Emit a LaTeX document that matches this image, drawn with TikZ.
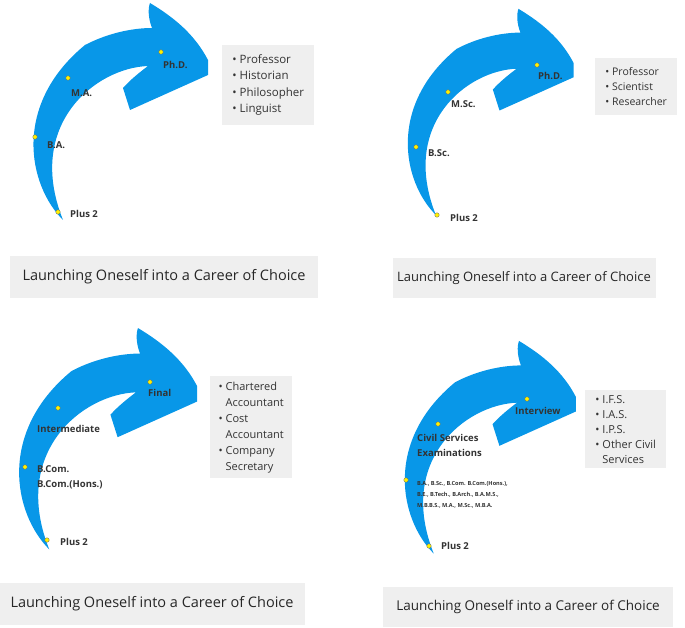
\documentclass[tikz,border=0pt]{standalone}
\usepackage{fontspec}
\setmainfont{Open Sans}
\usepackage{tikz}
\usetikzlibrary{positioning}

\definecolor{arrowblue}{HTML}{0897E8}
\definecolor{boxgray}{HTML}{EFEFEF}
\definecolor{txt}{HTML}{333333}

\newcommand{\careerarrow}[2]{%
  \fill[arrowblue,shift={#1},scale=#2] (63,220) .. controls (28,185) and (12,105) .. (85,45)
    .. controls (110,32) and (135,28) .. (152,28) .. controls (148,18) and (148,8) .. (150,3)
    .. controls (175,18) and (195,35) .. (208,60) -- (208,75)
    -- (130,110) -- (123,88) .. controls (130,80) and (140,72) .. (148,66)
    .. controls (95,68) and (25,125) .. (63,220) -- cycle;}

\begin{document}
\begin{tikzpicture}[x=1pt,y=-1pt,
    stage/.style={font=\bfseries\fontsize{9.5}{11}\selectfont,text=txt,align=left,inner sep=0pt},
    dot/.style={circle,fill=yellow,draw=black!60,line width=0.3pt,inner sep=0pt,minimum size=4.5pt},
    listbox/.style={fill=boxgray,text=txt,font=\fontsize{11.5}{16.5}\selectfont,align=left,anchor=north west,inner sep=3pt},
    titlebox/.style={fill=boxgray,text=black!85,font=\fontsize{14.5}{16}\selectfont,minimum height=42pt}]
\useasboundingbox (0,0) rectangle (685,628);

% top left
\careerarrow{(0,0)}{1}
\node[dot] (p1) at (58,212) {};
\node[dot] (b1) at (35,137) {};
\node[dot] (m1) at (68,78) {};
\node[dot] (d1) at (161,52) {};
\node[stage,anchor=west] at (70,214) {Plus 2};
\node[stage,anchor=west] at (47,145) {B.A.};
\node[stage,anchor=west] at (71,93) {M.A.};
\node[stage,anchor=west] at (163,65) {Ph.D.};
\node[listbox,minimum width=92pt,minimum height=80pt] (j1) at (222,45)
  {\textbullet\ Professor\\ \textbullet\ Historian\\ \textbullet\ Philosopher\\ \textbullet\ Linguist};
\node[titlebox,minimum width=308pt] (t1) at (164,277) {Launching Oneself into a Career of Choice};

% top right
\careerarrow{(376,6)}{0.95}
\node[dot] (p2) at (437,215) {};
\node[dot] (b2) at (416,147) {};
\node[dot] (m2) at (448,92) {};
\node[dot] (d2) at (537,65) {};
\node[stage,anchor=west] at (450,218) {Plus 2};
\node[stage,anchor=west] at (428,153) {B.Sc.};
\node[stage,anchor=west] at (451,104) {M.Sc.};
\node[stage,anchor=west] at (538,76) {Ph.D.};
\node[listbox,minimum width=82pt,minimum height=57pt,font=\fontsize{10.5}{15}\selectfont] (j2) at (595,58)
  {\textbullet\ Professor\\ \textbullet\ Scientist\\ \textbullet\ Researcher};
\node[titlebox,minimum width=263pt,minimum height=40pt,font=\fontsize{13}{15}\selectfont] (t2) at (524,278) {Launching Oneself into a Career of Choice};

% bottom left
\careerarrow{(-15,325)}{1.02}
\node[dot] (p3) at (47,540) {};
\node[dot] (c3) at (25,467) {};
\node[dot] (i3) at (58,408) {};
\node[dot] (f3) at (150,382) {};
\node[stage,anchor=west] at (60,542) {Plus 2};
\node[stage,anchor=north west,font=\bfseries\fontsize{9.5}{15}\selectfont] at (37,465) {B.Com.\\B.Com.(Hons.)};
\node[stage,anchor=west] at (37,429) {Intermediate};
\node[stage,anchor=west] at (148,393) {Final};
\node[listbox,minimum width=82pt,minimum height=102pt,font=\fontsize{11}{16}\selectfont] (j3) at (210,376)
  {\textbullet\ Chartered\\ \phantom{\textbullet}\ Accountant\\ \textbullet\ Cost\\ \phantom{\textbullet}\ Accountant\\ \textbullet\ Company\\ \phantom{\textbullet}\ Secretary};
\node[titlebox,minimum width=305pt] (t3) at (152,604) {Launching Oneself into a Career of Choice};

% bottom right
\careerarrow{(372,338)}{0.98}
\node[dot] (p4) at (429,546) {};
\node[dot] (g4) at (406,480) {};
\node[dot] (c4) at (438,424) {};
\node[dot] (v4) at (527,399) {};
\node[stage,anchor=west] at (441,546) {Plus 2};
\node[stage,anchor=north west,font=\bfseries\fontsize{5.6}{11}\selectfont] at (417,481)
  {B.A., B.Sc., B.Com. B.Com.(Hons.),\\B.E., B.Tech., B.Arch., B.A.M.S.,\\M.B.B.S., M.A., M.Sc., M.B.A.};
\node[stage,anchor=north west,font=\bfseries\fontsize{9.5}{15}\selectfont] at (417,434) {Civil Services\\Examinations};
\node[stage,anchor=west] at (515,411) {Interview};
\node[listbox,minimum width=81pt,minimum height=78pt,font=\fontsize{11}{15}\selectfont] (j4) at (585,390)
  {\textbullet\ I.F.S.\\ \textbullet\ I.A.S.\\ \textbullet\ I.P.S.\\ \textbullet\ Other Civil\\ \phantom{\textbullet}\ Services};
\node[titlebox,minimum width=290pt,minimum height=40pt,font=\fontsize{13.5}{15}\selectfont] (t4) at (528,607) {Launching Oneself into a Career of Choice};
\end{tikzpicture}
\end{document}
